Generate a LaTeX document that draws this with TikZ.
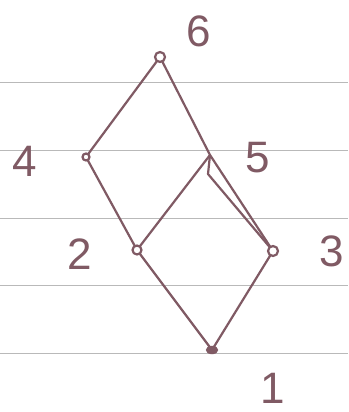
\documentclass[tikz,border=0pt]{standalone}
\usepackage{fontspec}
\setmainfont{Liberation Sans}
\usetikzlibrary{shapes.geometric}
\definecolor{pen}{RGB}{128,90,100}
\definecolor{rule}{RGB}{185,185,185}
\begin{document}
\begin{tikzpicture}[x=1pt,y=-1pt,
  ruleline/.style={draw=rule,line width=0.8pt},
  edge/.style={draw=pen,line width=2.2pt,line cap=round,line join=round},
  vtx/.style={circle,draw=pen,line width=2.2pt,fill=white,inner sep=0pt,minimum size=8pt},
  vfill/.style={ellipse,draw=pen,fill=pen,inner sep=0pt,minimum width=12pt,minimum height=8pt},
  lab/.style={text=pen,font=\fontsize{44}{44}\selectfont,inner sep=0pt}]
\useasboundingbox (0,0) rectangle (348,412);
\fill[white] (0,0) rectangle (348,412);
% ruled paper
\foreach \yy in {82,150,218,285,353} \draw[ruleline] (0,\yy) -- (348,\yy);
% vertices
\coordinate (p6) at (160,57);
\coordinate (p4) at (86,157);
\coordinate (p5) at (210,155);
\coordinate (p2) at (137,250);
\coordinate (p3) at (273,251);
\coordinate (p1) at (212,350);
\coordinate (k) at (208,174);
% edges
\draw[edge] (p6) -- (p4);
\draw[edge] (p6) -- (p5);
\draw[edge] (p4) -- (p2);
\draw[edge] (p5) -- (p2);
\draw[edge] (p5) -- (p3);
\draw[edge] (p5) -- (k) -- (p3);
\draw[edge] (p2) -- (p1);
\draw[edge] (p3) -- (p1);
% vertex marks
\node[vtx,minimum size=10pt] (v6) at (p6) {};
\node[vtx,minimum size=7pt] (v4) at (p4) {};
\node[vtx,minimum size=9pt] (v2) at (p2) {};
\node[vtx,minimum size=10pt] (v3) at (p3) {};
\node[vfill] (v1) at (p1) {};
% labels
\node[lab] (l6) at (199,31) {6};
\node[lab] (l4) at (25,161) {4};
\node[lab] (l5) at (258,158) {5};
\node[lab] (l2) at (80,254) {2};
\node[lab] (l3) at (332,251) {3};
\node[lab] (l1) at (273,388) {1};
\end{tikzpicture}
\end{document}
